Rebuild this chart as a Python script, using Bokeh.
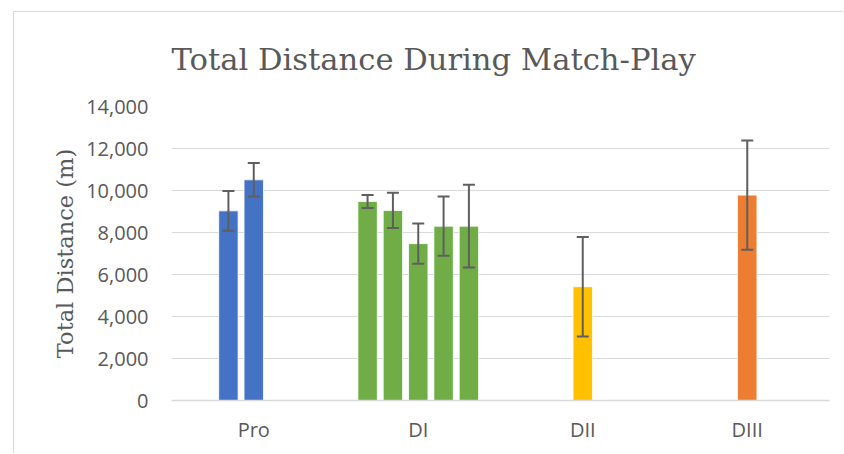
from bokeh.plotting import figure
from bokeh.models import (ColumnDataSource, Range1d, FixedTicker, NumeralTickFormatter,
                          Whisker, TeeHead)
from bokeh.embed import file_html
from bokeh.resources import INLINE

# ---- data ----
categories = ["Pro", "DI", "DII", "DIII"]
pro_means = [9030, 10510]
pro_sd = [950, 800]
di_means = [9480, 9050, 7470, 8300, 8300]
di_sd = [310, 840, 960, 1410, 1970]
dii_means = [5420]
dii_sd = [2370]
diii_means = [9780]
diii_sd = [2600]
group_colors = ["#4472C4", "#70AD47", "#FFC000", "#ED7D31"]
y_ticks = [0, 2000, 4000, 6000, 8000, 10000, 12000, 14000]

groups = [(pro_means, pro_sd), (di_means, di_sd), (dii_means, dii_sd), (diii_means, diii_sd)]

STEP = 0.154
BAR_W = 0.118

xs, tops, lows, highs, cols = [], [], [], [], []
for gi, (means, sds) in enumerate(groups):
    n = len(means)
    for i, (m, s) in enumerate(zip(means, sds)):
        xs.append(gi + 0.5 + (i - n // 2) * STEP)
        tops.append(m)
        lows.append(m - s)
        highs.append(m + s)
        cols.append(group_colors[gi])

src = ColumnDataSource(dict(x=xs, top=tops, lower=lows, upper=highs, color=cols))

p = figure(width=830, height=442, output_backend="svg", toolbar_location=None,
           x_range=Range1d(0, len(categories)), y_range=Range1d(0, 14000),
           min_border_left=157, min_border_right=15, min_border_top=94, min_border_bottom=54,
           title="Total Distance During Match-Play")
p.margin = (11, 0, 0, 13)
p.styles = {"border-left": "1px solid #d9d9d9", "border-top": "1px solid #d9d9d9"}
p.outline_line_color = None
p.background_fill_color = "white"
p.border_fill_color = "white"

p.title.text_font = "DejaVu Serif"
p.title.text_font_style = "normal"
p.title.text_font_size = "30.6px"
p.title.text_color = "#595959"
p.title.align = "left"
p.title.offset = 0
p.title.vertical_align = "top"
p.title.standoff = 56

p.vbar(x="x", top="top", width=BAR_W, bottom=0, source=src, fill_color="color",
       line_color="white", line_width=0.8)

p.add_layout(Whisker(source=src, base="x", lower="lower", upper="upper",
                     line_color="#5f5f5f", line_width=2, level="overlay",
                     upper_head=TeeHead(size=12, line_color="#5f5f5f", line_width=2),
                     lower_head=TeeHead(size=12, line_color="#5f5f5f", line_width=2)))

# axes
p.xaxis.ticker = FixedTicker(ticks=[i + 0.5 for i in range(len(categories))])
p.xaxis.major_label_overrides = {i + 0.5: c for i, c in enumerate(categories)}
p.yaxis.ticker = FixedTicker(ticks=y_ticks)
p.yaxis.formatter = NumeralTickFormatter(format="0,0")
for ax in (p.xaxis, p.yaxis):
    ax.major_tick_line_color = None
    ax.minor_tick_line_color = None
    ax.major_label_text_font = "Open Sans"
    ax.major_label_text_font_size = "20px"
    ax.major_label_text_color = "#595959"
p.yaxis.axis_line_color = None
p.xaxis.axis_line_color = "#d9d9d9"
p.xaxis.axis_line_width = 1.5
p.yaxis.major_label_standoff = 17
p.xaxis.major_label_standoff = 9
p.yaxis.axis_label = "Total Distance (m)"
p.yaxis.axis_label_text_font = "DejaVu Serif"
p.yaxis.axis_label_text_font_style = "normal"
p.yaxis.axis_label_text_font_size = "22.5px"
p.yaxis.axis_label_text_color = "#595959"
p.yaxis.axis_label_standoff = 5

p.xgrid.grid_line_color = None
p.ygrid.grid_line_color = "#d9d9d9"
p.ygrid.grid_line_width = 1.2

open("out.html", "w").write(file_html(p, INLINE))
